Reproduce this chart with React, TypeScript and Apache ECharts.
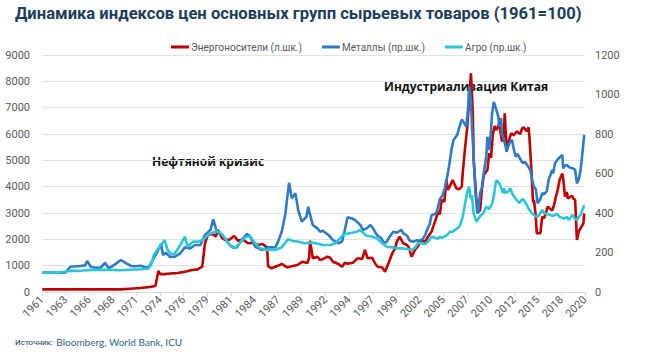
import React, { useEffect, useRef } from "react";
import * as echarts from "echarts";

const TITLE = "Динамика индексов цен основных групп сырьевых товаров (1961=100)";
const SERIES_NAMES = ["Энергоносители (л.шк.)", "Металлы (пр.шк.)", "Агро (пр.шк.)"];
const ANNOTATIONS = ["Нефтяной кризис", "Индустриализация Китая"];
const SOURCE_LABEL = "Источник:";
const SOURCE_TEXT = "Bloomberg, World Bank, ICU";

// Left axis 0..9000 step 1000, right axis 0..1200 step 200
const LEFT_AXIS = { min: 0, max: 9000, step: 1000 };
const RIGHT_AXIS = { min: 0, max: 1200, step: 200 };

// x axis: months since March 1961, labelled every 31 months (1961, 1963, 1966 ... 2020)
const START_YEAR = 1961 + 2 / 12;
const LABEL_STEP_MONTHS = 31;
const LAST_MONTH = 713;

// [decimal year, index]
const energy: [number, number][] = [
  [1961.2, 100], [1969.7, 100], [1970.8, 125], [1971.9, 150], [1973.0, 190], [1973.5, 230], [1973.6, 260],
  [1973.9, 800], [1974.1, 680], [1974.6, 680], [1975.2, 700], [1976.0, 720], [1976.8, 770], [1977.6, 835],
  [1978.2, 860], [1978.7, 960], [1979.0, 1850], [1979.3, 2165], [1979.8, 2200], [1980.2, 2100], [1980.4, 2355],
  [1980.9, 2040], [1981.2, 1975], [1981.7, 1990], [1982.2, 2125], [1982.6, 1950], [1983.2, 1980], [1983.7, 1850],
  [1984.3, 1870], [1984.8, 1785], [1985.3, 1820], [1985.8, 1700], [1985.9, 985], [1986.3, 900], [1986.9, 985],
  [1987.4, 1065], [1988.0, 935], [1988.5, 980], [1989.1, 1025], [1989.7, 1150], [1990.2, 1100], [1990.4, 1300],
  [1990.5, 1950], [1990.7, 1500], [1990.8, 1280], [1991.3, 1340], [1991.6, 1215], [1991.9, 1250], [1992.4, 1340],
  [1992.7, 1300], [1993.0, 1150], [1993.6, 1065], [1994.0, 960], [1994.3, 1110], [1994.6, 1070], [1995.2, 1110],
  [1995.7, 1280], [1996.2, 1250], [1996.5, 1595], [1996.8, 1280], [1997.3, 1300], [1997.6, 1090], [1997.9, 960],
  [1998.4, 930], [1998.7, 770], [1999.0, 1025], [1999.5, 1470], [1999.8, 1660], [2000.0, 1910], [2000.3, 2100],
  [2000.7, 1850], [2001.1, 1785], [2001.3, 1700], [2001.6, 1340], [2002.0, 1620], [2002.3, 1745], [2002.7, 1975],
  [2003.1, 1900], [2003.4, 2100], [2003.8, 2300], [2004.2, 2700], [2004.5, 3050], [2004.7, 2950], [2004.9, 3500],
  [2005.2, 3430], [2005.4, 4250], [2005.6, 3875], [2005.9, 4100], [2006.1, 4250], [2006.5, 3940], [2006.8, 3900],
  [2007.1, 4000], [2007.2, 4500], [2007.4, 5265], [2007.7, 6275], [2007.9, 7290], [2008.1, 8300], [2008.3, 6910],
  [2008.4, 5010], [2008.7, 3495], [2008.9, 3050], [2009.1, 3100], [2009.3, 3900], [2009.5, 4440], [2009.9, 4630],
  [2010.1, 5265], [2010.3, 5100], [2010.5, 6000], [2010.7, 6300], [2010.9, 6150], [2011.2, 6400], [2011.5, 5710],
  [2011.7, 5960], [2011.8, 6785], [2012.0, 5455], [2012.3, 5800], [2012.5, 6025], [2012.8, 5950], [2013.1, 6100],
  [2013.5, 6000], [2013.7, 6215], [2013.9, 6250], [2014.2, 6100], [2014.4, 6250], [2014.5, 5900], [2014.7, 4760],
  [2014.9, 3400], [2015.0, 3500], [2015.2, 2860], [2015.3, 2230], [2015.7, 2230], [2015.9, 2860], [2016.1, 2800],
  [2016.3, 3000], [2016.5, 3240], [2016.8, 3150], [2017.0, 3100], [2017.2, 3305], [2017.4, 3620], [2017.6, 3875],
  [2017.8, 4250], [2018.1, 4505], [2018.2, 4300], [2018.4, 3620], [2018.6, 3800], [2018.7, 3550], [2018.9, 3600],
  [2019.2, 3650], [2019.3, 3550], [2019.5, 3500], [2019.7, 1975], [2019.9, 2300], [2020.1, 2420], [2020.4, 2600],
  [2020.5, 2990],
];

const metals: [number, number][] = [
  [1961.2, 98], [1963.7, 98], [1964.3, 128], [1965.3, 132], [1965.9, 135], [1966.1, 157], [1966.5, 128],
  [1967.1, 122], [1967.6, 124], [1968.1, 148], [1968.4, 123], [1968.7, 126], [1969.3, 145], [1969.8, 162],
  [1970.4, 145], [1970.9, 132], [1971.4, 130], [1972.0, 133], [1972.4, 127], [1972.8, 123], [1973.3, 162],
  [1973.8, 205], [1974.2, 242], [1974.4, 187], [1974.7, 199], [1975.2, 177], [1975.7, 179], [1976.3, 196],
  [1976.8, 226], [1977.4, 221], [1977.9, 238], [1978.5, 238], [1979.0, 289], [1979.6, 314], [1979.9, 368],
  [1980.3, 305], [1980.9, 289], [1981.4, 255], [1982.0, 226], [1982.5, 226], [1983.0, 263], [1983.6, 294],
  [1983.9, 284], [1984.5, 229], [1985.2, 213], [1985.9, 226], [1986.7, 226], [1987.0, 255], [1987.4, 305],
  [1987.8, 398], [1988.2, 553], [1988.5, 474], [1988.9, 500], [1989.2, 415], [1989.6, 356], [1990.1, 381],
  [1990.3, 432], [1990.6, 373], [1990.8, 339], [1991.3, 322], [1991.6, 305], [1991.9, 310], [1992.5, 289],
  [1993.0, 263], [1993.6, 247], [1994.0, 255], [1994.3, 314], [1994.6, 378], [1995.1, 372], [1995.4, 365],
  [1996.0, 339], [1996.3, 314], [1996.7, 322], [1997.1, 339], [1997.4, 322], [1997.8, 289], [1998.3, 272],
  [1998.6, 247], [1998.9, 255], [1999.2, 280], [1999.6, 305], [2000.0, 300], [2000.5, 314], [2000.7, 297],
  [2001.1, 285], [2001.4, 260], [2001.8, 255], [2002.2, 262], [2002.5, 258], [2002.9, 272], [2003.1, 290],
  [2003.4, 325], [2003.6, 345], [2003.8, 390], [2004.2, 395], [2004.4, 410], [2004.7, 470], [2005.0, 490],
  [2005.3, 533], [2005.5, 584], [2005.7, 634], [2006.0, 728], [2006.2, 770], [2006.6, 795], [2006.8, 829],
  [2007.1, 874], [2007.3, 860], [2007.6, 837], [2007.8, 938], [2007.9, 1040], [2008.1, 972], [2008.2, 854],
  [2008.4, 685], [2008.6, 500], [2008.8, 398], [2008.9, 405], [2009.1, 500], [2009.3, 530], [2009.5, 601],
  [2009.8, 694], [2009.9, 786], [2010.1, 719], [2010.3, 820], [2010.4, 896], [2010.6, 963], [2010.8, 935],
  [2011.1, 888], [2011.2, 837], [2011.4, 880], [2011.5, 800], [2011.7, 770], [2011.9, 736], [2012.0, 710],
  [2012.3, 753], [2012.6, 770], [2012.8, 720], [2013.0, 685], [2013.2, 700], [2013.6, 665], [2013.8, 652],
  [2014.0, 660], [2014.3, 640], [2014.6, 618], [2014.8, 567], [2015.0, 533], [2015.2, 520], [2015.4, 449],
  [2015.7, 470], [2015.9, 500], [2016.1, 495], [2016.4, 510], [2016.6, 567], [2017.0, 618], [2017.1, 600],
  [2017.3, 652], [2017.5, 665], [2017.7, 677], [2018.1, 694], [2018.2, 626], [2018.4, 640], [2018.6, 643],
  [2018.9, 630], [2019.3, 625], [2019.5, 620], [2019.7, 550], [2019.9, 570], [2020.1, 618], [2020.3, 702],
  [2020.5, 795],
];

const agro: [number, number][] = [
  [1961.2, 98], [1963.1, 98], [1963.7, 103], [1964.3, 108], [1965.3, 106], [1966.2, 111], [1967.5, 113],
  [1968.6, 112], [1969.7, 110], [1970.8, 113], [1971.9, 115], [1972.8, 118], [1973.1, 137], [1973.4, 187],
  [1973.9, 221], [1974.2, 238], [1974.6, 263], [1974.9, 213], [1975.3, 192], [1975.7, 195], [1976.3, 238],
  [1976.8, 280], [1977.1, 229], [1977.7, 255], [1978.2, 255], [1978.8, 263], [1979.3, 289], [1980.1, 305],
  [1980.6, 305], [1981.2, 272], [1981.7, 238], [1982.3, 223], [1982.8, 247], [1983.4, 277], [1983.9, 284],
  [1984.5, 247], [1985.0, 221], [1985.8, 213], [1986.7, 213], [1987.4, 226], [1988.1, 268], [1988.6, 258],
  [1989.2, 255], [1989.9, 247], [1990.7, 250], [1991.3, 245], [1991.9, 238], [1992.7, 238], [1993.2, 245],
  [1993.8, 272], [1994.1, 289], [1994.5, 295], [1995.1, 300], [1995.6, 305], [1996.0, 314], [1996.3, 300],
  [1996.7, 285], [1997.3, 280], [1997.8, 272], [1998.4, 247], [1998.9, 229], [1999.5, 226], [2000.0, 221],
  [2000.6, 221], [2001.1, 218], [2001.6, 213], [2002.0, 225], [2002.3, 247], [2002.7, 247], [2003.1, 243],
  [2003.4, 255], [2003.8, 280], [2004.2, 275], [2004.5, 270], [2004.7, 280], [2005.0, 275], [2005.5, 289],
  [2005.8, 305], [2006.1, 305], [2006.6, 322], [2006.9, 335], [2007.2, 381], [2007.4, 432], [2007.7, 508],
  [2007.9, 533], [2008.1, 470], [2008.2, 490], [2008.4, 398], [2008.7, 356], [2008.9, 370], [2009.2, 390],
  [2009.4, 395], [2009.8, 432], [2010.0, 425], [2010.1, 420], [2010.4, 445], [2010.6, 483], [2010.8, 550],
  [2010.9, 567], [2011.2, 550], [2011.4, 530], [2011.6, 500], [2011.7, 525], [2011.9, 500], [2012.2, 510],
  [2012.4, 525], [2012.6, 500], [2012.8, 485], [2013.1, 466], [2013.4, 450], [2013.7, 470], [2013.9, 466],
  [2014.3, 432], [2014.5, 415], [2014.8, 398], [2015.0, 390], [2015.3, 381], [2015.5, 385], [2015.9, 415],
  [2016.1, 400], [2016.4, 395], [2016.8, 390], [2017.1, 385], [2017.5, 395], [2017.8, 381], [2018.2, 373],
  [2018.4, 373], [2018.6, 380], [2018.8, 365], [2019.2, 390], [2019.4, 375], [2019.7, 365], [2019.9, 380],
  [2020.1, 390], [2020.5, 440],
];

const COLORS = ["#C00000", "#2E7BC8", "#2CC6DA"];

const toMonths = (pts: [number, number][]) =>
  pts.map(([y, v]) => [Math.round((y - START_YEAR) * 12 * 100) / 100, v]);

export default function App() {
  const ref = useRef<HTMLDivElement>(null);

  useEffect(() => {
    document.body.style.margin = "0";
    if (!ref.current) return;
    const chart = echarts.init(ref.current, null, { renderer: "svg" });
    const axisLabelColor = "#595959";
    const fontFamily = "'Open Sans', 'Noto Sans', sans-serif";

    chart.setOption({
      animation: false,
      backgroundColor: "#ffffff",
      textStyle: { fontFamily },
      grid: { left: 42, right: 84, top: 55, bottom: 65, containLabel: false },
      legend: {
        top: 37,
        left: 166,
        itemWidth: 18,
        itemHeight: 3,
        itemGap: 20,
        icon: "rect",
        textStyle: { color: axisLabelColor, fontSize: 10, fontFamily: "Roboto, sans-serif", padding: [0, 0, 0, -3] },
        data: SERIES_NAMES,
      },
      xAxis: {
        type: "value",
        min: 0,
        max: LAST_MONTH,
        interval: LABEL_STEP_MONTHS,
        axisLine: { show: true, lineStyle: { color: "#D9D9D9" } },
        axisTick: { show: true, length: 4, lineStyle: { color: "#D9D9D9" } },
        splitLine: { show: false },
        axisLabel: {
          rotate: 45,
          color: axisLabelColor,
          fontSize: 11,
          fontFamily: "Roboto, sans-serif",
          margin: 6,
          formatter: (v: number) => String(Math.floor(1961 + (v + 2) / 12 + 1e-6)),
        },
      },
      yAxis: [
        {
          type: "value",
          min: LEFT_AXIS.min,
          max: LEFT_AXIS.max,
          interval: LEFT_AXIS.step,
          axisLine: { show: false },
          axisTick: { show: false },
          splitLine: { show: true, lineStyle: { color: "#E3E3E3", width: 1 } },
          axisLabel: { color: axisLabelColor, fontSize: 11, fontFamily: "Roboto, sans-serif", margin: 12, formatter: (v: number) => String(v) },
        },
        {
          type: "value",
          min: RIGHT_AXIS.min,
          max: RIGHT_AXIS.max,
          interval: RIGHT_AXIS.step,
          axisLine: { show: false },
          axisTick: { show: false },
          splitLine: { show: false },
          axisLabel: { color: axisLabelColor, fontSize: 11, fontFamily: "Roboto, sans-serif", margin: 10, formatter: (v: number) => String(v) },
        },
      ],
      series: [
        { name: SERIES_NAMES[0], type: "line", yAxisIndex: 0, data: toMonths(energy), showSymbol: false, lineStyle: { width: 2.6, color: COLORS[0] }, itemStyle: { color: COLORS[0] } },
        { name: SERIES_NAMES[1], type: "line", yAxisIndex: 1, data: toMonths(metals), showSymbol: false, lineStyle: { width: 2.6, color: COLORS[1] }, itemStyle: { color: COLORS[1] } },
        { name: SERIES_NAMES[2], type: "line", yAxisIndex: 1, data: toMonths(agro), showSymbol: false, lineStyle: { width: 2.6, color: COLORS[2] }, itemStyle: { color: COLORS[2] } },
      ],
      graphic: [
        {
          type: "text",
          left: 15,
          top: 5,
          style: { text: TITLE, fill: "#1B3D5C", font: "bold 16.6px Roboto, sans-serif" },
        },
        {
          type: "text",
          left: 152,
          top: 155,
          style: { text: ANNOTATIONS[0], fill: "#111111", font: "bold 12px 'Open Sans', sans-serif" },
        },
        {
          type: "text",
          left: 384,
          top: 80,
          style: { text: ANNOTATIONS[1], fill: "#111111", font: "bold 12px 'Open Sans', sans-serif" },
        },
        {
          type: "text",
          left: 15,
          top: 336,
          style: {
            text: "{a|" + SOURCE_LABEL + "} {b|" + SOURCE_TEXT + "}",
            rich: {
              a: { fill: "#1B3D5C", fontSize: 8, fontFamily: "Roboto, sans-serif" },
              b: { fill: "#2A6A8A", fontSize: 10, fontFamily: "Lato, sans-serif" },
            },
          },
        },
      ],
    });
    return () => chart.dispose();
  }, []);

  return <div ref={ref} style={{ width: 669, height: 357 }} />;
}
